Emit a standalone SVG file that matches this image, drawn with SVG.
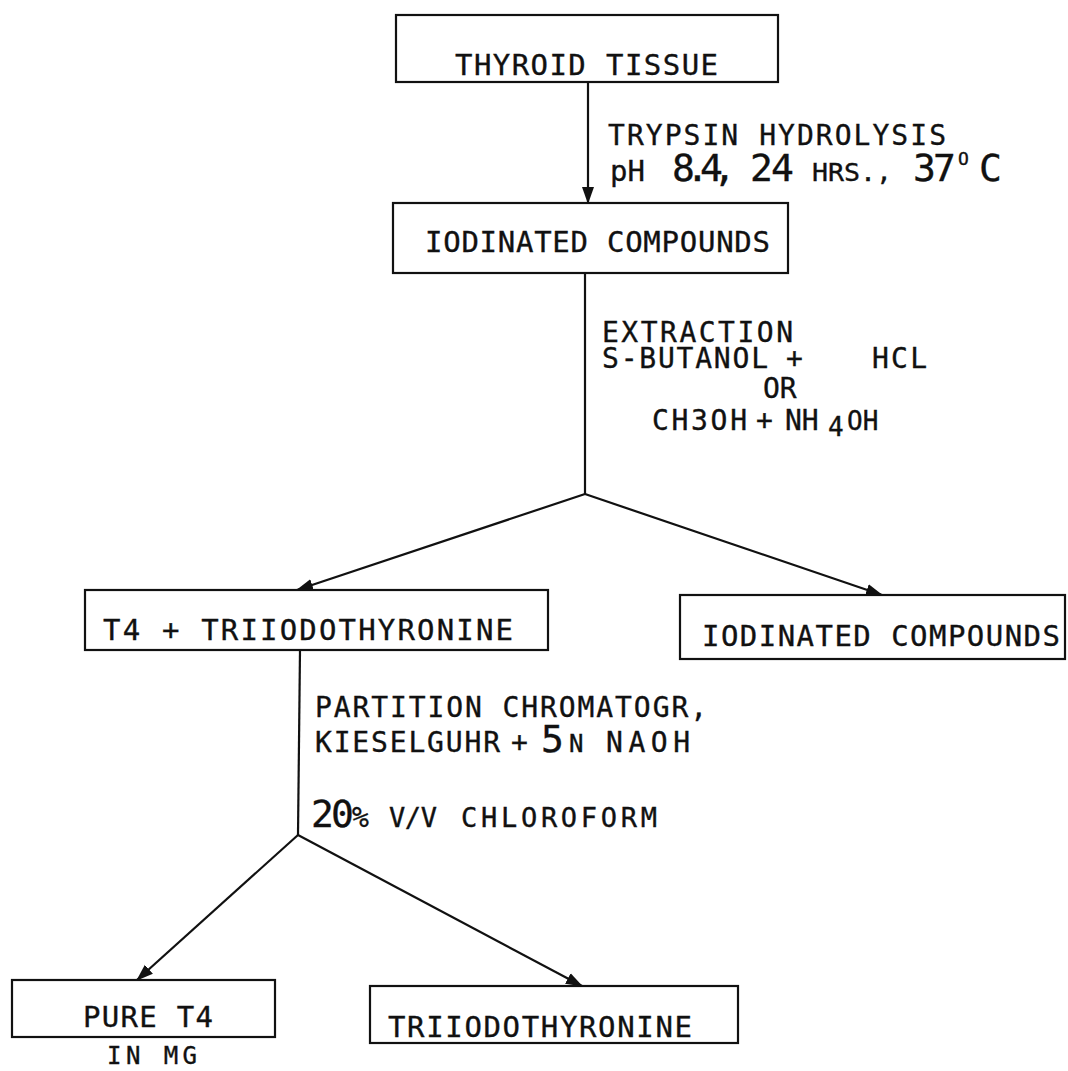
<svg xmlns="http://www.w3.org/2000/svg" width="1068" height="1071" viewBox="0 0 1068 1071">
<style>
.box{fill:none;stroke:#111;stroke-width:2.2}
.con{fill:none;stroke:#111;stroke-width:2.2}
text{font-family:"DejaVu Sans Mono","Liberation Mono",monospace;fill:#111;stroke:#111;stroke-width:0.35;font-size:29px}
.lbl{font-size:28px}
.sm{font-size:24px}
.big{font-size:38px}
</style>
<defs>
<marker id="ah" markerUnits="userSpaceOnUse" markerWidth="18" markerHeight="14" refX="16" refY="7" orient="auto">
<path d="M0,1 L17,7 L0,13 Z" fill="#111"/>
</marker>
</defs>
<rect width="1068" height="1071" fill="#fff"/>
<g id="connectors">
<line class="con" x1="588" y1="82" x2="588" y2="203" marker-end="url(#ah)"/>
<line class="con" x1="585" y1="273" x2="585" y2="494"/>
<line class="con" x1="585" y1="494" x2="297" y2="590" marker-end="url(#ah)"/>
<line class="con" x1="585" y1="494" x2="882" y2="595" marker-end="url(#ah)"/>
<line class="con" x1="300" y1="650" x2="298" y2="835"/>
<line class="con" x1="298" y1="835" x2="137" y2="980" marker-end="url(#ah)"/>
<line class="con" x1="298" y1="835" x2="582" y2="986" marker-end="url(#ah)"/>
</g>
<g id="labels">
<text class="lbl"><tspan x="608" y="145" textLength="338" lengthAdjust="spacing">TRYPSIN HYDROLYSIS</tspan><tspan x="610" y="181" font-size="29">pH</tspan><tspan class="big" x="672 686 700 713" y="181">8.4,</tspan><tspan class="big" x="750 771" y="181">24</tspan><tspan class="sm" x="812" y="181" textLength="80" lengthAdjust="spacingAndGlyphs">HRS.,</tspan><tspan class="big" x="913 933" y="181">37</tspan><tspan x="958" y="165" font-size="18">O</tspan><tspan class="big" x="979" y="181">C</tspan></text>
<text class="lbl"><tspan x="602" y="342" textLength="191" lengthAdjust="spacing">EXTRACTION</tspan><tspan x="602" y="368" textLength="166" lengthAdjust="spacing">S-BUTANOL</tspan><tspan x="786" y="368">+</tspan><tspan x="872" y="368" textLength="55" lengthAdjust="spacing">HCL</tspan><tspan x="763" y="398">OR</tspan><tspan x="652" y="430" textLength="95" lengthAdjust="spacing">CH3OH</tspan><tspan x="756" y="430">+</tspan><tspan x="785" y="430">NH</tspan><tspan x="828" y="436" font-size="26">4</tspan><tspan x="847" y="430" font-size="26">OH</tspan></text>
<text class="lbl"><tspan x="315" y="717" textLength="392" lengthAdjust="spacing">PARTITION CHROMATOGR,</tspan><tspan x="315" y="752" textLength="185" lengthAdjust="spacing">KIESELGUHR</tspan><tspan x="511" y="752">+</tspan><tspan class="big" x="541" y="752">5</tspan><tspan class="sm" x="569" y="752">N</tspan><tspan x="606" y="752" textLength="84" lengthAdjust="spacing">NAOH</tspan><tspan class="big" x="311 331" y="827">20</tspan><tspan x="352" y="827" font-size="28">%</tspan><tspan x="389" y="827" font-size="27" textLength="48" lengthAdjust="spacing">V/V</tspan><tspan x="461" y="827" font-size="27" textLength="196" lengthAdjust="spacing">CHLOROFORM</tspan></text>
</g>
<g id="thyroid-tissue">
<rect class="box" x="396" y="15" width="382" height="67"/>
<text x="455" y="75" textLength="263" lengthAdjust="spacing">THYROID TISSUE</text>
</g>
<g id="iodinated-compounds-1">
<rect class="box" x="393" y="203" width="395" height="70"/>
<text x="425" y="252" textLength="345" lengthAdjust="spacing">IODINATED COMPOUNDS</text>
</g>
<g id="t4-triiodothyronine">
<rect class="box" x="85" y="590" width="463" height="60"/>
<text x="103" y="640" textLength="410" lengthAdjust="spacing">T4 + TRIIODOTHYRONINE</text>
</g>
<g id="iodinated-compounds-2">
<rect class="box" x="680" y="595" width="385" height="64"/>
<text x="702" y="646" textLength="358" lengthAdjust="spacing">IODINATED COMPOUNDS</text>
</g>
<g id="pure-t4">
<rect class="box" x="12" y="980" width="263" height="57"/>
<text x="83" y="1027" textLength="130" lengthAdjust="spacing">PURE T4</text>
<text class="sm" x="107" y="1064" textLength="90" lengthAdjust="spacing">IN MG</text>
</g>
<g id="triiodothyronine">
<rect class="box" x="370" y="986" width="368" height="57"/>
<text x="388" y="1037" textLength="304" lengthAdjust="spacing">TRIIODOTHYRONINE</text>
</g>
</svg>
